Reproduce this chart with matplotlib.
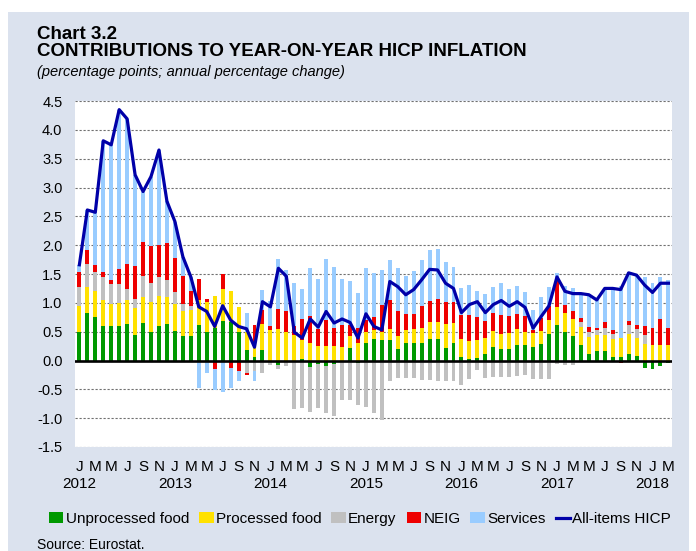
import matplotlib
matplotlib.use("Agg")
import matplotlib.pyplot as plt
import matplotlib.transforms as mtransforms
from matplotlib.patches import Rectangle, Patch
from matplotlib.lines import Line2D
import numpy as np

plt.rcParams["font.family"] = ["Liberation Sans", "DejaVu Sans"]

# monthly data, Jan 2012 - Mar 2018 (percentage points)
years = [2012, 2013, 2014, 2015, 2016, 2017, 2018]
month_letters = ["J", "F", "M", "A", "M", "J", "J", "A", "S", "O", "N", "D"]

unprocessed_food = [
    0.50, 0.82, 0.75, 0.60, 0.60, 0.59, 0.64, 0.45, 0.65, 0.50, 0.59, 0.63,
    0.51, 0.42, 0.43, 0.62, 0.50, 0.56, 0.69, 0.66, 0.50, 0.18, 0.06, 0.18,
    0.00, -0.07, 0.00, -0.03, 0.02, -0.12, -0.06, -0.10, -0.06, 0.00, 0.21, -0.05,
    0.30, 0.37, 0.36, 0.35, 0.20, 0.31, 0.30, 0.30, 0.37, 0.37, 0.21, 0.30,
    0.06, 0.02, 0.04, 0.12, 0.24, 0.20, 0.20, 0.27, 0.27, 0.23, 0.29, 0.46,
    0.62, 0.50, 0.42, 0.27, 0.12, 0.17, 0.17, 0.06, 0.06, 0.12, 0.08, -0.13,
    -0.15, -0.09, -0.05,
]
processed_food = [
    0.44, 0.45, 0.46, 0.45, 0.38, 0.41, 0.41, 0.46, 0.45, 0.51, 0.53, 0.47,
    0.47, 0.44, 0.45, 0.43, 0.52, 0.55, 0.55, 0.54, 0.42, 0.32, 0.21, 0.45,
    0.53, 0.54, 0.50, 0.45, 0.34, 0.30, 0.25, 0.26, 0.25, 0.24, 0.22, 0.30,
    0.20, 0.16, 0.14, 0.19, 0.22, 0.22, 0.25, 0.26, 0.29, 0.29, 0.43, 0.35,
    0.31, 0.31, 0.32, 0.27, 0.28, 0.26, 0.27, 0.27, 0.23, 0.24, 0.23, 0.25,
    0.30, 0.32, 0.30, 0.31, 0.28, 0.28, 0.28, 0.31, 0.33, 0.34, 0.31, 0.29,
    0.27, 0.27, 0.27,
]
energy = [
    0.34, 0.41, 0.32, 0.39, 0.35, 0.33, 0.19, 0.15, 0.37, 0.34, 0.32, 0.30,
    0.20, 0.12, 0.07, 0.00, 0.00, 0.00, 0.00, 0.00, 0.00, -0.22, -0.19, -0.21,
    -0.07, -0.08, -0.10, -0.81, -0.83, -0.77, -0.77, -0.81, -0.91, -0.69, -0.69, -0.72,
    -0.80, -0.91, -1.03, -0.36, -0.31, -0.31, -0.31, -0.34, -0.34, -0.35, -0.36, -0.36,
    -0.42, -0.32, -0.17, -0.31, -0.29, -0.29, -0.29, -0.27, -0.25, -0.32, -0.32, -0.32,
    -0.06, -0.07, -0.07, 0.08, 0.09, 0.08, 0.11, 0.09, 0.00, 0.16, 0.15, 0.16,
    0.00, 0.00, 0.00,
]
neig = [
    0.25, 0.24, 0.13, 0.10, 0.06, 0.25, 0.44, 0.58, 0.58, 0.63, 0.57, 0.63,
    0.60, 0.48, 0.26, 0.36, 0.05, -0.15, 0.26, -0.13, -0.19, -0.04, 0.35, 0.25,
    0.06, 0.36, 0.35, 0.15, 0.36, 0.47, 0.30, 0.45, 0.32, 0.38, 0.19, 0.26,
    0.21, 0.23, 0.47, 0.51, 0.44, 0.28, 0.26, 0.39, 0.38, 0.41, 0.38, 0.37,
    0.42, 0.46, 0.40, 0.29, 0.30, 0.33, 0.30, 0.27, 0.27, 0.06, 0.21, 0.24,
    0.48, 0.15, 0.13, 0.07, 0.09, 0.04, 0.10, 0.07, -0.05, 0.06, 0.08, 0.15,
    0.29, 0.45, 0.29,
]
services = [
    0.13, 0.69, 0.91, 2.27, 2.35, 2.77, 2.51, 1.58, 0.88, 1.21, 1.64, 0.73,
    0.63, 0.34, 0.24, -0.48, -0.22, -0.37, -0.55, -0.35, -0.17, 0.32, -0.16, 0.35,
    0.44, 0.86, 0.72, 0.74, 0.52, 0.84, 0.87, 1.05, 1.05, 0.80, 0.75, 0.61,
    0.90, 0.76, 0.60, 0.69, 0.74, 0.65, 0.74, 0.80, 0.88, 0.86, 0.69, 0.60,
    0.47, 0.52, 0.44, 0.48, 0.45, 0.55, 0.47, 0.48, 0.42, 0.35, 0.37, 0.32,
    0.11, 0.32, 0.40, 0.44, 0.57, 0.49, 0.59, 0.72, 0.90, 0.85, 0.87, 0.84,
    0.78, 0.72, 0.84,
]
hicp = [
    1.66, 2.61, 2.57, 3.81, 3.74, 4.35, 4.19, 3.22, 2.93, 3.19, 3.65, 2.76,
    2.41, 1.80, 1.45, 0.93, 0.85, 0.59, 0.95, 0.70, 0.59, 0.55, 0.23, 1.02,
    0.93, 1.60, 1.46, 0.49, 0.39, 0.72, 0.58, 0.85, 0.65, 0.72, 0.66, 0.39,
    0.81, 0.59, 0.53, 1.37, 1.28, 1.14, 1.23, 1.40, 1.58, 1.57, 1.34, 1.25,
    0.83, 0.97, 1.02, 0.83, 0.97, 1.04, 0.94, 1.02, 0.92, 0.56, 0.76, 0.95,
    1.45, 1.20, 1.16, 1.16, 1.14, 1.05, 1.25, 1.25, 1.23, 1.52, 1.48, 1.31,
    1.18, 1.34, 1.34,
]

SERIES = [
    ("Unprocessed food", unprocessed_food, "#009900"),
    ("Processed food", processed_food, "#ffe100"),
    ("Energy", energy, "#c0c0c0"),
    ("NEIG", neig, "#ee0000"),
    ("Services", services, "#99ccff"),
]
LINE_COLOR = "#0000a8"
BG = "#dbe2ee"

W, H = 696, 551
fig = plt.figure(figsize=(W / 100, H / 100), dpi=100)
fig.patches.append(Rectangle((8 / W, 0), 681 / W, 539 / H, transform=fig.transFigure,
                             facecolor=BG, edgecolor="none", zorder=-10))

ax = fig.add_axes([75 / W, 104 / H, 597 / W, 346 / H])
ax.set_facecolor("white")

n = len(hicp)
x = np.arange(n)

# positive and negative contributions are stacked separately
pos_base = np.zeros(n)
neg_base = np.zeros(n)
for name, vals, color in SERIES:
    v = np.array(vals)
    pos = np.where(v > 0, v, 0)
    neg = np.where(v < 0, v, 0)
    ax.bar(x, pos, 0.5, bottom=pos_base, color=color, linewidth=0, zorder=2)
    ax.bar(x, neg, 0.5, bottom=neg_base, color=color, linewidth=0, zorder=2)
    pos_base += pos
    neg_base += neg

ax.plot(x, hicp, color=LINE_COLOR, linewidth=2.3, solid_joinstyle="round", zorder=4)
ax.axhline(0, color="black", linewidth=1.9, zorder=3)

ax.set_xlim(-0.55, n - 0.55)
ax.set_ylim(-1.5, 4.5)
yt = np.arange(-1.5, 4.51, 0.5)
ax.set_yticks(yt)
ax.set_yticklabels([f"{v:.1f}" for v in yt], fontsize=10.5)
ax.yaxis.grid(True, color="#707070", linestyle=(0, (2, 1.6)), linewidth=0.8, zorder=1)
ax.set_axisbelow(True)
ax.set_xticks([])
ax.tick_params(axis="y", length=0, pad=9)
for s in ax.spines.values():
    s.set_visible(False)

trans = mtransforms.blended_transform_factory(ax.transData, fig.transFigure)
for i in range(n):
    if i % 2 == 0:
        ax.text(i, 1 - 471 / H, month_letters[i % 12], transform=trans,
                ha="center", va="baseline", fontsize=11)
    if i % 12 == 0:
        ax.text(i, 1 - 487.5 / H, str(years[i // 12]), transform=trans,
                ha="center", va="baseline", fontsize=11)

fig.text(37 / W, 1 - 39 / H, "Chart 3.2", fontsize=13.5, fontweight="bold", va="baseline")
fig.text(37 / W, 1 - 56 / H, "CONTRIBUTIONS TO YEAR-ON-YEAR HICP INFLATION",
         fontsize=13.5, fontweight="bold", va="baseline")
fig.text(37 / W, 1 - 76 / H, "(percentage points; annual percentage change)",
         fontsize=10.5, style="italic", va="baseline")

handles = [Patch(facecolor=c, edgecolor="none", label=name) for name, _, c in SERIES]
handles.append(Line2D([], [], color=LINE_COLOR, linewidth=2.3, label="All-items HICP"))
fig.legend(handles=handles, loc="center", bbox_to_anchor=(360 / W, 1 - 519 / H), ncol=6,
           frameon=False, fontsize=11, handlelength=0.95, handleheight=0.7,
           handletextpad=0.15, columnspacing=0.65, borderaxespad=0)

fig.text(37 / W, 1 - 549 / H, "Source: Eurostat.", fontsize=10, va="baseline")

fig.savefig("out.png", dpi=100)
